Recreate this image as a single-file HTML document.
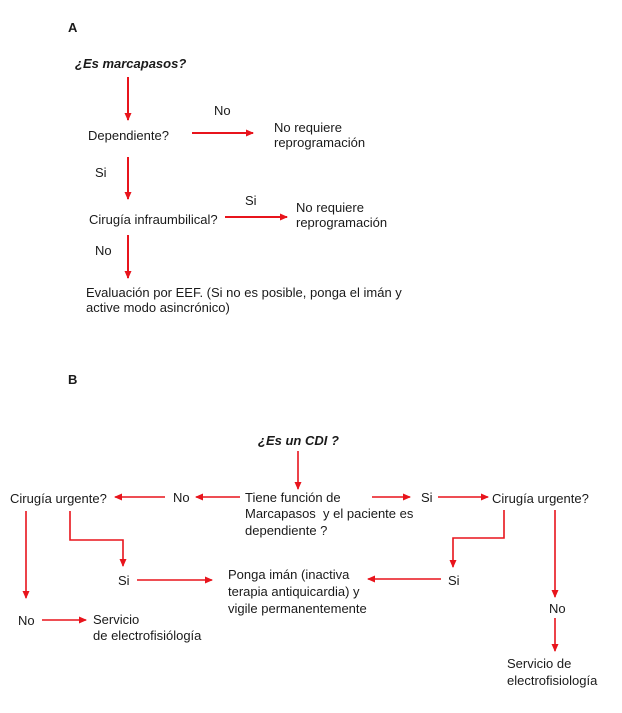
<!DOCTYPE html>
<html><head><meta charset="utf-8"><style>
html,body{margin:0;padding:0;background:#fff;}
svg{display:block;}
text{font-family:"Liberation Sans",Arial,sans-serif;font-size:13px;fill:#1a1a1a;}
.b{font-weight:bold;}
.bi{font-weight:bold;font-style:italic;}
line,polyline{stroke:#e8141c;fill:none;}
</style></head><body>
<svg width="622" height="713" viewBox="0 0 622 713" xmlns="http://www.w3.org/2000/svg">
<defs>
<marker id="a" markerWidth="8" markerHeight="8" refX="7" refY="4" orient="auto" markerUnits="userSpaceOnUse">
<path d="M0,0.5 L8,4 L0,7.5 Z" fill="#e8141c"/></marker>
</defs>
<!-- A -->
<text x="68" y="32" class="b">A</text>
<text x="75" y="68" class="bi">¿Es marcapasos?</text>
<line x1="128" y1="77" x2="128" y2="120" stroke-width="2" marker-end="url(#a)"/>
<text x="214" y="115">No</text>
<text x="88" y="140">Dependiente?</text>
<line x1="192" y1="133" x2="253" y2="133" stroke-width="2" marker-end="url(#a)"/>
<text x="274" y="132">No requiere</text>
<text x="274" y="147">reprogramación</text>
<text x="95" y="177">Si</text>
<line x1="128" y1="157" x2="128" y2="199" stroke-width="2" marker-end="url(#a)"/>
<text x="89" y="224">Cirugía infraumbilical?</text>
<text x="245" y="205">Si</text>
<line x1="225" y1="217" x2="287" y2="217" stroke-width="2" marker-end="url(#a)"/>
<text x="296" y="212">No requiere</text>
<text x="296" y="227">reprogramación</text>
<text x="95" y="255">No</text>
<line x1="128" y1="235" x2="128" y2="278" stroke-width="2" marker-end="url(#a)"/>
<text x="86" y="297">Evaluación por EEF. (Si no es posible, ponga el imán y</text>
<text x="86" y="312">active modo asincrónico)</text>
<!-- B -->
<text x="68" y="384" class="b">B</text>
<text x="258" y="445" class="bi">¿Es un CDI ?</text>
<line x1="298" y1="451" x2="298" y2="489" stroke-width="1.6" marker-end="url(#a)"/>
<text x="245" y="502">Tiene función de</text>
<text x="245" y="518">Marcapasos&#160; y el paciente es</text>
<text x="245" y="535">dependiente ?</text>
<line x1="240" y1="497" x2="196" y2="497" stroke-width="1.6" marker-end="url(#a)"/>
<text x="173" y="502">No</text>
<line x1="165" y1="497" x2="115" y2="497" stroke-width="1.6" marker-end="url(#a)"/>
<text x="10" y="503">Cirugía urgente?</text>
<line x1="372" y1="497" x2="410" y2="497" stroke-width="1.6" marker-end="url(#a)"/>
<text x="421" y="502">Si</text>
<line x1="438" y1="497" x2="488" y2="497" stroke-width="1.6" marker-end="url(#a)"/>
<text x="492" y="503">Cirugía urgente?</text>
<line x1="26" y1="511" x2="26" y2="598" stroke-width="1.6" marker-end="url(#a)"/>
<polyline points="70,511 70,540 123,540 123,566" stroke-width="1.6" marker-end="url(#a)"/>
<text x="118" y="585">Si</text>
<line x1="137" y1="580" x2="212" y2="580" stroke-width="1.6" marker-end="url(#a)"/>
<text x="228" y="579">Ponga imán (inactiva</text>
<text x="228" y="596">terapia antiquicardia) y</text>
<text x="228" y="613">vigile permanentemente</text>
<line x1="441" y1="579" x2="368" y2="579" stroke-width="1.6" marker-end="url(#a)"/>
<text x="448" y="585">Si</text>
<polyline points="504,510 504,538 453,538 453,567" stroke-width="1.6" marker-end="url(#a)"/>
<line x1="555" y1="510" x2="555" y2="597" stroke-width="1.6" marker-end="url(#a)"/>
<text x="549" y="613">No</text>
<line x1="555" y1="618" x2="555" y2="651" stroke-width="1.6" marker-end="url(#a)"/>
<text x="507" y="668">Servicio de</text>
<text x="507" y="685">electrofisiología</text>
<text x="18" y="625">No</text>
<line x1="42" y1="620" x2="86" y2="620" stroke-width="1.6" marker-end="url(#a)"/>
<text x="93" y="624">Servicio</text>
<text x="93" y="640">de electrofisiólogía</text>
</svg>
</body></html>
